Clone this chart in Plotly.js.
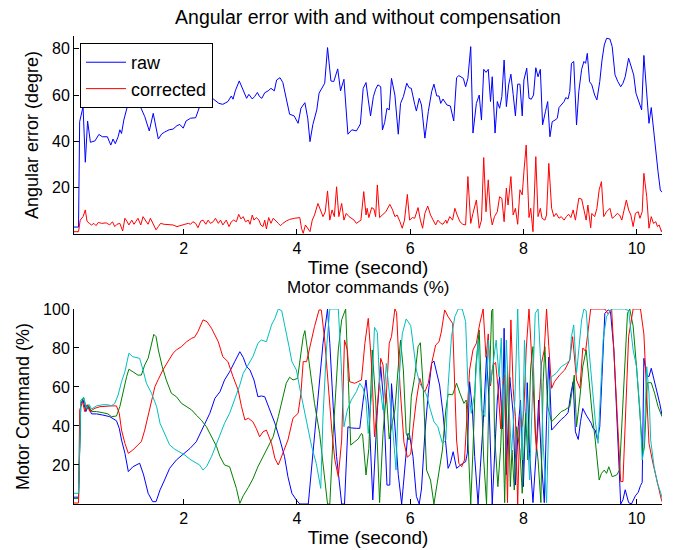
<!DOCTYPE html>
<html>
<head>
<meta charset="utf-8">
<script src="https://cdn.plot.ly/plotly-3.0.1.min.js"></script>
<style>html,body{margin:0;padding:0;background:#fff;}#chart{width:675px;height:550px;}</style>
</head>
<body>
<div id="chart"></div>
<script>
// ---- Top panel: angular error (degree) vs time (second) ----
const rawTime = [0.06,0.14,0.16,0.22,0.26,0.30,0.35,0.43,0.50,0.56,
0.65,0.71,0.75,0.79,0.84,0.87,0.90,0.94,1.02,1.10,
1.24,1.31,1.39,1.46,1.55,1.61,1.66,1.74,1.81,1.88,
1.93,1.99,2.04,2.12,2.21,2.28,2.37,2.52,2.62,2.69,
2.78,2.84,2.87,2.91,2.98,3.05,3.11,3.15,3.21,3.25,
3.30,3.34,3.38,3.43,3.49,3.54,3.60,3.64,3.70,3.75,
3.82,3.87,3.95,4.02,4.07,4.14,4.19,4.23,4.28,4.35,
4.39,4.44,4.49,4.54,4.60,4.65,4.72,4.77,4.83,4.90,
4.97,5.05,5.12,5.17,5.22,5.26,5.30,5.35,5.39,5.43,
5.48,5.51,5.55,5.59,5.63,5.67,5.73,5.79,5.83,5.88,
5.94,5.98,6.02,6.08,6.11,6.16,6.20,6.26,6.32,6.38,
6.42,6.47,6.51,6.54,6.58,6.65,6.71,6.77,6.82,6.86,
6.94,6.98,7.02,7.07,7.11,7.17,7.22,7.26,7.30,7.34,
7.38,7.42,7.45,7.50,7.54,7.58,7.62,7.66,7.70,7.74,
7.78,7.82,7.86,7.90,7.94,7.98,8.01,8.06,8.10,8.14,
8.18,8.22,8.26,8.30,8.34,8.39,8.43,8.47,8.51,8.56,
8.60,8.63,8.67,8.72,8.75,8.79,8.82,8.85,8.89,8.94,
8.98,9.03,9.07,9.10,9.13,9.17,9.21,9.26,9.30,9.35,
9.39,9.43,9.47,9.53,9.57,9.62,9.67,9.72,9.76,9.80,
9.86,9.91,9.95,9.99,10.03,10.09,10.13,10.18,10.22,10.26,
10.32,10.38,10.42,10.45];
const rawError = [3,3,48.5,55,31,48.8,39.6,40.2,43,42,
42,38.4,41,39,42,45,43.4,49.2,56.7,55.3,
54.6,50.7,44.5,52.1,41,43.2,44,45,45.3,46.8,
47.3,45.7,48.8,50,50.2,55,57.9,58.3,56.4,56,
57.2,59.6,58.2,61.8,66.1,62.2,58.6,60.3,58.3,59.3,
61.1,59.3,58.6,61,61.8,62.9,61.8,66.5,67.5,65.4,
56.4,51.7,51,47.8,54.3,56.7,50,39.9,47.2,53.6,
60.8,62.9,65.1,80.5,66.1,65.8,71.3,61.8,66.8,43.1,
45,44.5,47.5,62.9,65.4,57.9,51,59.3,62.5,64.4,
63.6,44.9,48.2,54.3,53.6,67.2,60,43.1,56.4,59.3,
65.1,63.2,62.9,56,53.1,58.6,55.7,41.4,52.8,61.5,
64.7,59.6,59.6,56.4,58.3,55.7,55.3,48.8,67.5,68.4,
67.2,63.6,67.2,80.9,43.6,56.4,60,49.2,71.1,69.8,
71.1,57.2,67.9,43.6,57.2,54.3,59.3,75.1,55,64.4,
69,60.3,51,64.7,64.7,51,66.5,71.6,58.6,58.2,
60,71.8,67.9,71.1,47.1,52.8,57.2,42,48.5,49.2,
50,54.6,56,57.2,58.9,58.3,61.5,73.7,74.5,47.1,
61.5,71.1,74.5,73.7,78,65.8,64.4,60,57.9,65.8,
75.1,81.6,84.5,84.2,80.9,68.7,65.8,63.6,65.1,67.9,
75.9,71.6,68.7,60.8,57.9,53.6,77.1,62.2,47.8,54.6,
39.9,26.9,19,18];

const corrTime = [0.06,0.14,0.17,0.22,0.26,0.29,0.33,0.37,0.41,0.45,
0.49,0.55,0.63,0.69,0.74,0.78,0.82,0.87,0.92,0.96,
1.00,1.03,1.08,1.12,1.15,1.19,1.24,1.28,1.33,1.37,
1.41,1.46,1.51,1.55,1.59,1.65,1.72,1.81,1.88,1.96,
2.02,2.08,2.12,2.16,2.21,2.25,2.30,2.34,2.39,2.43,
2.47,2.52,2.56,2.61,2.65,2.69,2.75,2.80,2.84,2.88,
2.93,2.97,3.01,3.05,3.09,3.14,3.17,3.21,3.24,3.28,
3.33,3.36,3.40,3.43,3.46,3.50,3.54,3.58,3.62,3.67,
3.71,3.75,3.81,3.87,3.96,4.05,4.08,4.11,4.15,4.19,
4.23,4.27,4.31,4.37,4.42,4.46,4.50,4.54,4.58,4.62,
4.66,4.70,4.74,4.79,4.83,4.87,4.92,4.96,5.01,5.05,
5.13,5.18,5.22,5.24,5.27,5.32,5.36,5.39,5.42,5.46,
5.51,5.57,5.64,5.69,5.73,5.77,5.82,5.86,5.90,5.95,
5.99,6.04,6.08,6.14,6.18,6.22,6.26,6.31,6.36,6.40,
6.45,6.49,6.54,6.58,6.63,6.65,6.70,6.75,6.79,6.83,
6.88,6.93,6.98,7.02,7.07,7.11,7.17,7.22,7.26,7.30,
7.34,7.38,7.42,7.45,7.49,7.54,7.58,7.62,7.66,7.70,
7.73,7.78,7.82,7.86,7.90,7.94,7.98,8.01,8.05,8.10,
8.13,8.17,8.22,8.26,8.30,8.33,8.38,8.41,8.45,8.50,
8.54,8.58,8.63,8.67,8.72,8.76,8.80,8.84,8.88,8.92,
8.98,9.03,9.07,9.11,9.14,9.19,9.21,9.26,9.30,9.34,
9.38,9.42,9.47,9.53,9.57,9.61,9.66,9.70,9.74,9.78,
9.82,9.86,9.90,9.94,9.98,10.03,10.06,10.10,10.13,10.18,
10.22,10.26,10.30,10.34,10.37,10.40,10.44,10.47];
const corrError = [1,1,6,7.5,10.4,5.5,4.6,3.9,4.6,3.6,
5,4.6,4.8,3.9,5.3,3.2,4.2,4.6,1.3,6.8,
5.3,3.9,6,4.2,5.3,6.8,3.9,7.5,5.6,4.2,
6.8,4.6,1.8,3.2,4.6,4.2,4.2,3.9,3.2,3.9,
4.2,4.6,4.2,5.3,4.6,2.7,5.6,6,4.2,6,
4.6,5.3,6.8,4.6,6,3.9,6,3.2,5.3,6,
5.3,8.5,6.5,7.5,5.3,6,4.2,8.2,6,7.1,
6,3.9,3.2,6,2.2,7.1,4.6,6.8,5.6,4.6,
3.6,4.6,5.6,6.3,6.8,7.1,2.5,0.3,3.9,2.7,
1,6,8.2,13.2,9.6,7.5,9.6,18.6,6,10.4,
7.5,20.4,7.5,13.2,6,8.9,7.5,6.8,6,4.6,
6,18.3,8.2,11.1,7.1,11.4,10.8,7.5,21.2,7.1,
8.2,9.6,12.8,10.4,7.5,8.2,5.3,2.5,6,17.1,
6,7.1,6.8,11.4,6,2.5,8.9,12.1,8.2,6,
3.9,6,4.6,4.2,6,4.6,7.5,6,11.1,8.2,
5.3,4.2,3.9,24.8,4.6,8.9,14.7,2.5,6,33,
9.6,23.4,8.2,3.9,7.5,9.6,16.1,15.4,5.3,19.8,
12.5,24.8,8.2,11.1,4.2,19.1,16.9,26.9,38.4,7.1,
11.1,1,33.4,7.5,11.1,6.8,6,8.2,30.5,11.1,
7.5,8.9,6.8,7.5,6,7.5,8.5,7.1,10.4,6,
15.4,15.1,11.1,6,12.5,2.7,8.9,7.5,11.1,19.1,
22.6,7.5,9.6,11.1,6.8,7.5,8.9,8.2,6,11.1,
14.7,10.4,8.2,3.2,8.9,9.6,6.8,9.6,26.2,16.1,
2.5,7.5,4.6,5.3,3.2,3.9,1,2.7];

// ---- Bottom panel: motor commands (%) ----
const blueTime = [0.06,0.14,0.18,0.22,0.27,0.31,0.37,0.46,0.57,0.69,
0.81,0.86,0.90,0.96,1.02,1.10,1.22,1.29,1.37,1.45,
1.51,1.58,1.66,1.75,1.87,1.99,2.11,2.22,2.34,2.46,
2.55,2.64,2.72,2.81,2.90,2.99,3.05,3.11,3.17,3.24,
3.31,3.37,3.43,3.52,3.61,3.70,3.78,3.84,3.91,3.99,
4.05,4.20,4.28,4.37,4.46,4.54,4.58,4.64,4.70,4.79,
4.84,4.90,4.96,5.05,5.11,5.17,5.22,5.27,5.34,5.42,
5.48,5.53,5.59,5.64,5.67,5.73,5.79,5.85,5.90,5.96,
5.99,6.05,6.11,6.16,6.20,6.26,6.32,6.38,6.42,6.48,
6.52,6.58,6.63,6.67,6.71,6.76,6.82,6.88,6.93,6.98,
7.01,7.05,7.10,7.14,7.20,7.24,7.29,7.35,7.39,7.45,
7.49,7.54,7.58,7.63,7.66,7.70,7.76,7.82,7.86,7.91,
7.95,8.00,8.04,8.07,8.11,8.17,8.23,8.27,8.32,8.37,
8.41,8.45,8.50,8.55,8.61,8.67,8.73,8.79,8.84,8.88,
8.92,8.97,9.01,9.05,9.11,9.16,9.20,9.23,9.27,9.31,
9.35,9.39,9.44,9.50,9.54,9.60,9.66,9.72,9.76,9.80,
9.86,9.91,9.98,10.03,10.07,10.10,10.13,10.18,10.22,10.26,
10.31,10.37,10.41,10.45];
const blueCmd = [3.5,3.5,51.6,53.3,47.4,50.3,46.2,46.2,45.6,44.8,
42.7,38.8,32.8,26,16.6,19.1,20.9,14.9,5.5,1.2,
1.2,7.2,12.3,18.3,22.6,25.6,28.5,31.9,39.6,46.5,
54.2,57.6,63.6,67.8,73,78.1,75.2,70.4,68.7,63.6,
55,55.4,55,48.2,41.4,32.8,24.3,14,5.5,2,
0,0,26,53.3,82.4,100,82.4,50,24.3,0,
0,39.6,39,38.8,38.8,53.3,63.6,48.2,2.1,48.2,
70.4,53.3,9.7,9.7,61.7,40,15,0,15.7,36.2,
35.4,24.3,3.9,0,7.7,36.2,56.8,72.1,73.3,65.3,
61,46.5,32,18.3,20.9,26.8,18.3,20,20.9,21.7,
26,62.7,48.2,24.3,0,18.8,41.4,75.7,55,0,
27.7,53.3,65.3,38.5,90.1,15,65,46.5,9.7,39.6,
53.3,8.9,43,62.2,26,0.7,27.7,53.3,21.7,0.7,
43,75.3,37.9,39.6,41.7,43.4,44.8,46.8,56.8,62.7,
37,33.1,42.2,49,45.6,43,41.4,38.8,37.9,32.8,
39.6,65.3,97.8,99.5,98.6,79,39.6,0,2.1,7.3,
0.7,0,4.2,6,9.4,11.1,74.7,66.1,65.3,69.6,
63.6,56.8,51.6,45.6];

const greenTime = [0.06,0.14,0.18,0.23,0.28,0.31,0.37,0.46,0.57,0.66,
0.72,0.81,0.87,0.93,0.99,1.03,1.10,1.19,1.25,1.31,
1.37,1.43,1.47,1.51,1.55,1.62,1.69,1.78,1.87,1.96,
2.05,2.14,2.22,2.31,2.40,2.49,2.58,2.64,2.72,2.81,
2.87,2.93,2.99,3.05,3.14,3.22,3.31,3.40,3.49,3.58,
3.67,3.73,3.81,3.87,3.93,4.01,4.05,4.11,4.14,4.19,
4.26,4.31,4.40,4.48,4.54,4.58,4.64,4.73,4.79,4.86,
4.90,4.95,5.02,5.08,5.14,5.16,5.22,5.27,5.33,5.39,
5.46,5.52,5.58,5.63,5.67,5.73,5.79,5.83,5.88,5.93,
5.98,6.02,6.08,6.14,6.18,6.23,6.29,6.36,6.42,6.49,
6.57,6.63,6.67,6.75,6.82,6.88,6.95,6.99,7.02,7.07,
7.11,7.16,7.22,7.26,7.30,7.35,7.39,7.44,7.46,7.49,
7.55,7.60,7.63,7.67,7.72,7.77,7.80,7.84,7.88,7.94,
7.98,8.04,8.08,8.13,8.17,8.21,8.26,8.31,8.35,8.38,
8.43,8.50,8.58,8.67,8.73,8.82,8.90,8.94,9.00,9.05,
9.11,9.16,9.21,9.27,9.34,9.38,9.43,9.47,9.51,9.57,
9.65,9.70,9.74,9.79,9.84,9.88,9.94,10.00,10.06,10.11,
10.14,10.19,10.26,10.32,10.38,10.45];
const greenCmd = [2.9,2.9,51.6,54.7,48.2,50.9,47.4,47.4,46.8,46.2,
44.8,45.1,49.9,58.5,65.3,69.1,67.9,66.1,66.1,71.3,
74.7,82.4,87,85.8,79,70.4,63.6,56.8,55,51.6,
49.9,48.2,45.6,43,39.6,34.5,29.4,24.3,20,19.1,
14,8,0.3,4.2,8.5,12.8,19.1,24.3,29.4,34.5,
44.8,51.6,61.9,65,63.6,64.4,73,85.8,88.9,77.3,
60.2,51.6,36.2,14,0,0,36.2,79,94.5,100,
70.4,30.2,31.9,33.3,36.2,35.4,14.9,28.5,79,53.3,
0.7,36.2,56.8,33.3,39.6,48.2,70.4,84.1,68.7,36.2,
32.8,55,65.3,80.7,82.7,60.2,17.4,12.3,0,12.3,
27.7,48.2,56.3,56,61.9,56.8,51.6,53.3,32.8,0,
27.7,70.4,89.2,53.3,22.6,0,53.3,99,100,36.2,
8.9,29.4,53.3,0.7,70.4,8.9,27.7,7.2,39.6,27.7,
5.5,46.5,22.6,70.4,80.7,36.2,22.6,0.7,62.2,80.7,
50,42.2,44.8,47.4,48.2,49.9,66.1,39.6,55,70.4,
79,62.2,48.2,32.8,12.3,15.7,17.4,15.7,19.1,14,
14.9,17.4,39.6,70.4,97.8,100,91.2,70.4,48.2,26,
29.4,62.2,62.2,56.8,50,44.8];

const redTime = [0.06,0.14,0.16,0.21,0.25,0.29,0.34,0.43,0.52,0.63,
0.72,0.81,0.86,0.90,0.96,1.02,1.10,1.19,1.25,1.31,
1.37,1.43,1.49,1.55,1.63,1.72,1.81,1.87,1.96,2.05,
2.14,2.19,2.25,2.34,2.41,2.49,2.55,2.61,2.69,2.78,
2.87,2.96,3.02,3.08,3.14,3.22,3.28,3.34,3.40,3.46,
3.55,3.61,3.67,3.75,3.84,3.93,4.02,4.07,4.11,4.17,
4.23,4.31,4.39,4.43,4.49,4.55,4.62,4.67,4.73,4.79,
4.84,4.89,4.93,5.02,5.08,5.14,5.20,5.26,5.32,5.37,
5.43,5.48,5.52,5.57,5.63,5.67,5.73,5.76,5.82,5.89,
5.95,6.01,6.05,6.11,6.17,6.22,6.26,6.32,6.38,6.45,
6.51,6.55,6.61,6.67,6.75,6.79,6.82,6.86,6.91,6.96,
7.01,7.05,7.11,7.17,7.23,7.29,7.34,7.38,7.42,7.46,
7.51,7.55,7.60,7.63,7.67,7.72,7.75,7.78,7.82,7.86,
7.90,7.94,7.98,8.01,8.05,8.10,8.14,8.19,8.23,8.26,
8.32,8.37,8.41,8.45,8.50,8.55,8.64,8.73,8.82,8.87,
8.91,8.94,9.00,9.05,9.10,9.14,9.19,9.44,9.50,9.56,
9.61,9.67,9.72,9.76,9.80,9.86,9.94,10.07,10.13,10.18,
10.22,10.29,10.37,10.44,10.47];
const redCmd = [0.5,0.5,48.2,52.5,47.4,50.9,47.4,49.1,49.9,50.3,
50.3,50.3,46.5,37.9,31.1,26,27.7,30.3,32,37.9,
45.6,53.3,60.2,63.9,68.7,73,77.3,79,80.7,83.2,
85,85.5,88.4,94.4,93.5,90.1,87,83.2,75.5,73,
65.3,58.5,49.9,43.1,44,42.2,38.8,34.5,37,37.9,
31.1,23.4,20,26,32.8,44,46.5,56.8,73,73,
80.7,91,99.5,99.5,84.1,61.9,36.2,22.6,14,32.8,
84.1,79,62.7,61.9,62.7,63.6,82.4,95.2,70.4,34.5,
53.3,74.7,71.3,51.6,82.4,85.8,100,98.2,60.6,31.6,
24,25.6,38.5,53.3,64.4,59.3,57.6,61.9,72.1,81.5,
83.2,88.2,99.5,96.1,92.6,63.6,32.8,20.9,19.1,22.6,
48.2,68.7,79,82.4,92.6,100,75.2,87.2,60.6,70.9,
72.6,60.6,38.5,59.3,66.1,0.7,55,94.4,59.3,44.8,
0,44.8,39.6,48.2,79,100,79,53.3,27.7,39.6,
72.1,79,100,80.7,59.3,62.7,66.1,68.7,73.8,85.8,
70.4,63.6,59.3,80,78.3,89.2,100,100,97.4,100,
70.4,36.2,11.5,11.5,44.8,85.8,100,100,87.2,55,
31.1,20.9,10.6,2.1,0];

const cyanTime = [0.06,0.14,0.18,0.23,0.28,0.33,0.37,0.46,0.57,0.66,
0.72,0.78,0.84,0.90,0.96,1.03,1.10,1.22,1.28,1.34,
1.43,1.52,1.58,1.66,1.75,1.84,1.93,2.02,2.11,2.19,
2.28,2.34,2.40,2.49,2.58,2.64,2.72,2.81,2.90,2.99,
3.05,3.14,3.22,3.31,3.37,3.46,3.55,3.61,3.67,3.73,
3.78,3.86,3.91,3.99,4.05,4.11,4.19,4.26,4.34,4.42,
4.46,4.52,4.58,4.73,4.77,4.83,4.89,4.96,5.05,5.11,
5.17,5.22,5.26,5.32,5.37,5.42,5.46,5.52,5.58,5.63,
5.69,5.75,5.80,5.86,5.93,6.01,6.05,6.11,6.17,6.23,
6.29,6.35,6.42,6.49,6.57,6.63,6.67,6.73,6.79,6.85,
6.92,6.98,7.02,7.08,7.14,7.20,7.26,7.32,7.38,7.42,
7.46,7.52,7.57,7.61,7.65,7.70,7.74,7.79,7.85,7.90,
7.94,7.98,8.02,8.07,8.11,8.17,8.21,8.26,8.31,8.35,
8.41,8.47,8.50,8.58,8.67,8.76,8.82,8.85,8.89,8.94,
8.98,9.03,9.07,9.11,9.16,9.21,9.27,9.32,9.37,9.41,
9.47,9.56,9.79,9.86,9.94,10.00,10.06,10.10,10.13,10.18,
10.22,10.25,10.31,10.37,10.43,10.47];
const cyanCmd = [5.5,5.5,53.3,54.7,49.1,50.9,48.7,50.3,50.9,50.9,
50.3,51.6,55.9,62.7,67.9,77.3,75.5,74.7,68.7,61.9,
56.8,49.9,41.4,36.2,30.3,28.1,26.8,25.1,22.9,21.7,
20,17.4,19.1,24.3,31.1,36.2,41.4,46.5,53.3,61,
67,71.3,75.5,82.4,84.1,83.2,91.8,95.2,100,99.1,
92.6,80.7,73,68.7,59.3,50.9,39.8,29.4,20.9,8,
44.8,79,100,100,79,39.6,48.2,53.3,57.6,61.9,
59.3,53.3,36.2,56.8,90.6,88,61.9,48.2,72.1,58.5,
39.6,17.4,61.9,87.2,94.9,91.5,82.4,68.7,61.9,58.5,
55.9,49.1,42.2,39.6,31.1,32.8,60.2,85.8,96.1,100,
100,93.5,61.9,46.5,56.8,84.1,48.2,44.8,84.1,61.9,
70.4,84.1,65.3,85,39.6,84.1,53.3,26,53.3,100,
53.3,22.6,84.1,36.2,12.3,62.2,97.8,100,70.4,31.1,
0.7,63.6,65.3,67,70.4,72.1,73.8,85.8,91.8,67,
79,94.4,100,99.1,79,62.2,43,31.1,62.2,84.1,
96.1,100,100,99.1,79,70.4,48.2,22.6,27.7,70.4,
56.8,32.8,19.1,10.6,5.5,0.7];

const xTicks = [2,4,6,8,10];
const topYTicks = [20,40,60,80];
const bottomYTicks = [20,40,60,80,100];

const FONT = 'Liberation Sans, Arial, Helvetica, sans-serif';
const ln = (c) => ({color: c, width: 1});

const traces = [
  {x: rawTime, y: rawError, type: 'scatter', mode: 'lines', name: 'raw', line: ln('#0000ff'), xaxis: 'x', yaxis: 'y'},
  {x: corrTime, y: corrError, type: 'scatter', mode: 'lines', name: 'corrected', line: ln('#ff0000'), xaxis: 'x', yaxis: 'y'},
  {x: blueTime, y: blueCmd, type: 'scatter', mode: 'lines', name: 'm1', showlegend: false, line: ln('#0000ff'), xaxis: 'x2', yaxis: 'y2'},
  {x: greenTime, y: greenCmd, type: 'scatter', mode: 'lines', name: 'm2', showlegend: false, line: ln('#008000'), xaxis: 'x2', yaxis: 'y2'},
  {x: redTime, y: redCmd, type: 'scatter', mode: 'lines', name: 'm3', showlegend: false, line: ln('#ff0000'), xaxis: 'x2', yaxis: 'y2'},
  {x: cyanTime, y: cyanCmd, type: 'scatter', mode: 'lines', name: 'm4', showlegend: false, line: ln('#00bfbf'), xaxis: 'x2', yaxis: 'y2'}
];

const axisBase = {
  showline: true, linecolor: '#000', linewidth: 1, mirror: false,
  ticks: 'inside', ticklen: 5, tickcolor: '#000', tickwidth: 1,
  showgrid: false, zeroline: false,
  tickfont: {family: FONT, size: 16, color: '#000'}
};

const layout = {
  width: 675, height: 550,
  margin: {l: 74, r: 13, t: 36, b: 46},
  paper_bgcolor: '#fff', plot_bgcolor: '#fff',
  font: {family: FONT, size: 16, color: '#000'},
  title: {text: 'Angular error with and without compensation', font: {family: FONT, size: 19.5, color: '#000'},
          x: 0.5, xref: 'paper', y: 1 - 17/550, yref: 'container', yanchor: 'middle'},
  showlegend: true,
  legend: {x: 0.0102, y: 0.985, xanchor: 'left', yanchor: 'top', bgcolor: '#fff', itemwidth: 40,
           bordercolor: '#000', borderwidth: 1, font: {family: FONT, size: 18, color: '#000'}},
  xaxis: Object.assign({}, axisBase, {domain: [0, 1], anchor: 'y', range: [0.06, 10.45], tickvals: xTicks,
          title: {text: 'Time (second)', font: {family: FONT, size: 19}, standoff: 3}}),
  yaxis: Object.assign({}, axisBase, {domain: [0.5769, 1], anchor: 'x', range: [0, 85.5], tickvals: topYTicks,
          title: {text: 'Angular error (degre)', font: {family: FONT, size: 18}, standoff: 8}}),
  xaxis2: Object.assign({}, axisBase, {domain: [0, 1], anchor: 'y2', range: [0.06, 10.45], tickvals: xTicks,
          title: {text: 'Time (second)', font: {family: FONT, size: 19}, standoff: 3}}),
  yaxis2: Object.assign({}, axisBase, {domain: [0, 0.4167], anchor: 'x2', range: [0, 100], tickvals: bottomYTicks,
          title: {text: 'Motor Command (%)', font: {family: FONT, size: 18}, standoff: 8}}),
  annotations: [
    {text: 'Motor commands (%)', xref: 'paper', yref: 'paper', x: 0.5, y: (504 - 287) / 468,
     xanchor: 'center', yanchor: 'middle', showarrow: false, font: {family: FONT, size: 17, color: '#000'}}
  ]
};

Plotly.newPlot('chart', traces, layout, {displayModeBar: false, staticPlot: true});
</script>
</body>
</html>
